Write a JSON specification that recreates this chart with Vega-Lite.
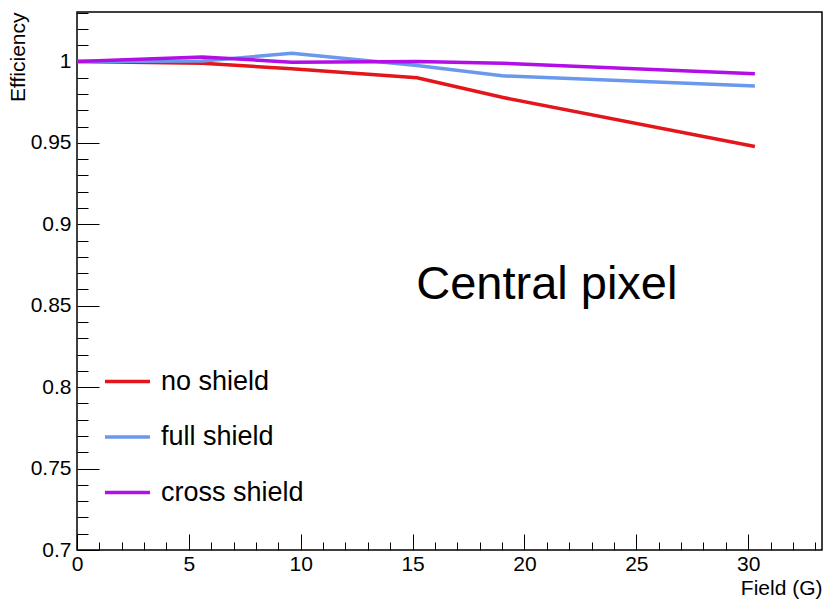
{
  "$schema": "https://vega.github.io/schema/vega-lite/v6.json",
  "width": 745,
  "height": 538,
  "autosize": {"type": "none"},
  "padding": {"left": 77, "top": 12, "right": 5, "bottom": 50},
  "background": "white",
  "config": {
    "font": "Liberation Sans",
    "view": {"stroke": "black", "strokeWidth": 1.5}
  },
  "datasets": {
    "curves": [
      {"field": 0, "eff": 1.0, "config": "no shield"},
      {"field": 5.6, "eff": 0.999, "config": "no shield"},
      {"field": 9.6, "eff": 0.9955, "config": "no shield"},
      {"field": 15.2, "eff": 0.99, "config": "no shield"},
      {"field": 19.0, "eff": 0.978, "config": "no shield"},
      {"field": 30.3, "eff": 0.9478, "config": "no shield"},
      {"field": 0, "eff": 1.0, "config": "full shield"},
      {"field": 5.6, "eff": 1.0003, "config": "full shield"},
      {"field": 9.6, "eff": 1.005, "config": "full shield"},
      {"field": 15.2, "eff": 0.9975, "config": "full shield"},
      {"field": 19.0, "eff": 0.9912, "config": "full shield"},
      {"field": 30.3, "eff": 0.985, "config": "full shield"},
      {"field": 0, "eff": 1.0, "config": "cross shield"},
      {"field": 5.6, "eff": 1.0028, "config": "cross shield"},
      {"field": 9.6, "eff": 0.9996, "config": "cross shield"},
      {"field": 15.2, "eff": 1.0, "config": "cross shield"},
      {"field": 19.0, "eff": 0.999, "config": "cross shield"},
      {"field": 30.3, "eff": 0.9925, "config": "cross shield"}
    ]
  },
  "layer": [
    {
      "data": {"name": "curves"},
      "mark": {"type": "line", "strokeWidth": 3.5, "opacity": 0},
      "encoding": {
        "x": {
          "field": "field", "type": "quantitative",
          "scale": {"domain": [0, 33.3], "nice": false, "zero": false},
          "axis": {
            "orient": "bottom", "labels": false, "domain": false, "grid": false, "title": null,
            "values": [0,1,2,3,4,5,6,7,8,9,10,11,12,13,14,15,16,17,18,19,20,21,22,23,24,25,26,27,28,29,30,31,32,33],
            "tickColor": "black", "tickWidth": 1,
            "tickSize": {"condition": {"test": "datum.value % 5 === 0", "value": -16}, "value": -8}
          }
        },
        "y": {
          "field": "eff", "type": "quantitative",
          "scale": {"domain": [0.7, 1.0304], "nice": false, "zero": false},
          "axis": {
            "orient": "left", "labels": false, "domain": false, "grid": false, "title": null,
            "values": [0.7,0.71,0.72,0.73,0.74,0.75,0.76,0.77,0.78,0.79,0.8,0.81,0.82,0.83,0.84,0.85,0.86,0.87,0.88,0.89,0.9,0.91,0.92,0.93,0.94,0.95,0.96,0.97,0.98,0.99,1,1.01,1.02,1.03],
            "tickColor": "black", "tickWidth": 1,
            "tickSize": {"condition": {"test": "round(datum.value*100) % 5 === 0", "value": -22}, "value": -11}
          }
        },
        "detail": {"field": "config"}
      }
    },
    {
      "data": {"name": "curves"},
      "mark": {"type": "line", "strokeWidth": 3.5},
      "encoding": {
        "x": {
          "field": "field", "type": "quantitative",
          "axis": {
            "orient": "bottom", "ticks": false, "domain": false, "grid": false,
            "values": [0, 5, 10, 15, 20, 25, 30],
            "labelExpr": "'' + datum.value", "labelFlush": false,
            "labelFontSize": 21, "labelColor": "black", "labelPadding": 3, "labelFont": "Liberation Sans",
            "title": "Field (G)", "titleFontSize": 21, "titleFontWeight": "normal", "titleColor": "black",
            "titleAlign": "right", "titleAnchor": "end", "titleX": 745, "titleY": 44, "titleBaseline": "alphabetic"
          }
        },
        "y": {
          "field": "eff", "type": "quantitative",
          "axis": {
            "orient": "left", "ticks": false, "domain": false, "grid": false,
            "values": [0.7, 0.75, 0.8, 0.85, 0.9, 0.95, 1],
            "labelExpr": "'' + datum.value", "labelFlush": false,
            "labelFontSize": 21, "labelColor": "black", "labelPadding": 6, "labelFont": "Liberation Sans",
            "title": "Efficiency", "titleFontSize": 21, "titleFontWeight": "normal", "titleColor": "black",
            "titleAngle": -90, "titleAlign": "right", "titleBaseline": "middle", "titleX": -59, "titleY": 0
          }
        },
        "color": {
          "field": "config", "type": "nominal",
          "scale": {"domain": ["no shield", "full shield", "cross shield"], "range": ["#e3161b", "#6a98ec", "#b20ee6"]},
          "legend": {
            "orient": "none", "legendX": 26, "legendY": 345, "title": null, "padding": 0,
            "symbolType": "stroke", "symbolSize": 2025, "symbolStrokeWidth": 3.5,
            "labelFontSize": 27, "labelFont": "Liberation Sans", "labelColor": "black",
            "labelOffset": 9, "rowPadding": 17.5
          }
        }
      }
    },
    {
      "data": {"values": [{"field": 21.0, "eff": 0.863, "label": "Central pixel"}]},
      "mark": {"type": "text", "fontSize": 47, "align": "center", "baseline": "middle", "color": "black", "font": "Liberation Sans"},
      "encoding": {
        "x": {"field": "field", "type": "quantitative", "axis": null},
        "y": {"field": "eff", "type": "quantitative", "axis": null},
        "text": {"field": "label"}
      }
    }
  ],
  "resolve": {"axis": {"x": "independent", "y": "independent"}}
}
